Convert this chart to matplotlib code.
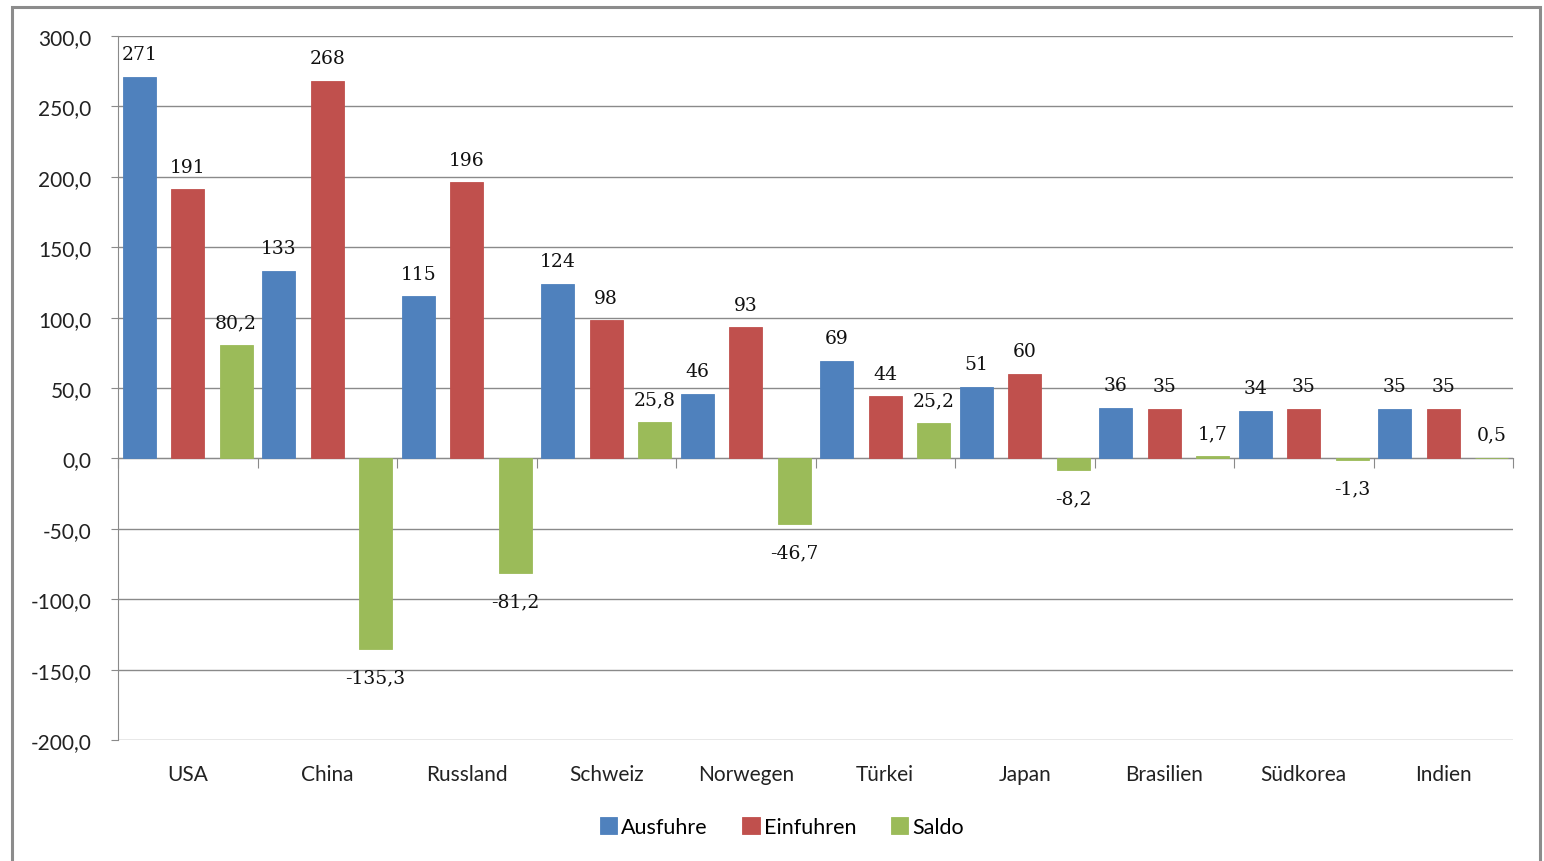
import matplotlib.pyplot as plt
import numpy as np
from matplotlib.patches import Rectangle

# Daten
laender = ["USA", "China", "Russland", "Schweiz", "Norwegen", "Türkei",
           "Japan", "Brasilien", "Südkorea", "Indien"]
ausfuhre = [271, 133, 115, 124, 46, 69, 51, 36, 34, 35]
einfuhren = [191, 268, 196, 98, 93, 44, 60, 35, 35, 35]
saldo = [80.2, -135.3, -81.2, 25.8, -46.7, 25.2, -8.2, 1.7, -1.3, 0.5]

sans = ["Lato", "DejaVu Sans"]
serif = ["DejaVu Serif"]

fig = plt.figure(figsize=(15.44, 8.62), dpi=100)
ax = fig.add_axes([118 / 1544, 1 - 741 / 862, (1513 - 118) / 1544, (741 - 37) / 862])

# Rahmen um das Diagramm
fig.patches.append(Rectangle((12 / 1544, -0.05), (1540 - 12) / 1544, 1.05 - 8 / 862,
                             transform=fig.transFigure, fill=False,
                             edgecolor="#8c8c8c", lw=2.2))

x = np.arange(len(laender)) + 0.5
breite = 0.235
abstand = 0.347

serien = [
    (ausfuhre, "Ausfuhre", "#4F81BD", -abstand, "{:.0f}"),
    (einfuhren, "Einfuhren", "#C0504D", 0, "{:.0f}"),
    (saldo, "Saldo", "#9BBB59", abstand, "{:.1f}"),
]

for werte, name, farbe, off, fmt in serien:
    bars = ax.bar(x + off, werte, width=breite, color=farbe, edgecolor=farbe,
                  linewidth=0.6, label=name, zorder=3)
    for b, v in zip(bars, werte):
        txt = fmt.format(v).replace(".", ",")
        if v >= 0:
            ax.annotate(txt, (b.get_x() + b.get_width() / 2, v), xytext=(0, 10),
                        textcoords="offset points", ha="center", va="bottom",
                        fontsize=13.5, family=serif, color="#111111")
        else:
            ax.annotate(txt, (b.get_x() + b.get_width() / 2, v), xytext=(0, -14),
                        textcoords="offset points", ha="center", va="top",
                        fontsize=13.5, family=serif, color="#111111")

ax.set_xlim(0, 10)
ax.set_ylim(-200, 300)
ax.set_yticks(np.arange(-200, 301, 50))
ax.set_yticklabels([f"{v:.1f}".replace(".", ",") for v in np.arange(-200, 301, 50)],
                   fontsize=15, family=sans, color="#222222")
ax.yaxis.grid(True, color="#8a8a8a", lw=1)
ax.set_axisbelow(True)

# x-Achse auf Nulllinie
ax.spines["bottom"].set_position(("data", 0))
ax.spines["bottom"].set_color("#8a8a8a")
ax.spines["left"].set_color("#8a8a8a")
ax.spines["top"].set_visible(False)
ax.spines["right"].set_visible(False)
ax.set_xticks(np.arange(0, 11))
ax.set_xticklabels([])
ax.tick_params(axis="x", length=7, color="#8a8a8a", direction="out")
ax.tick_params(axis="y", length=5, color="#8a8a8a", pad=14)

for xi, name in zip(x, laender):
    ax.text(xi, -0.049, name, transform=ax.get_xaxis_transform(), ha="center",
            va="center", fontsize=15, family=sans, color="#222222")

fig.legend(loc="center", bbox_to_anchor=(782 / 1544, 1 - 828 / 862), ncol=3,
           frameon=False, prop={"family": sans, "size": 15.5}, handlelength=0.8,
           handleheight=0.8, handletextpad=0.2, columnspacing=1.6)

fig.savefig("out.png", dpi=100)
